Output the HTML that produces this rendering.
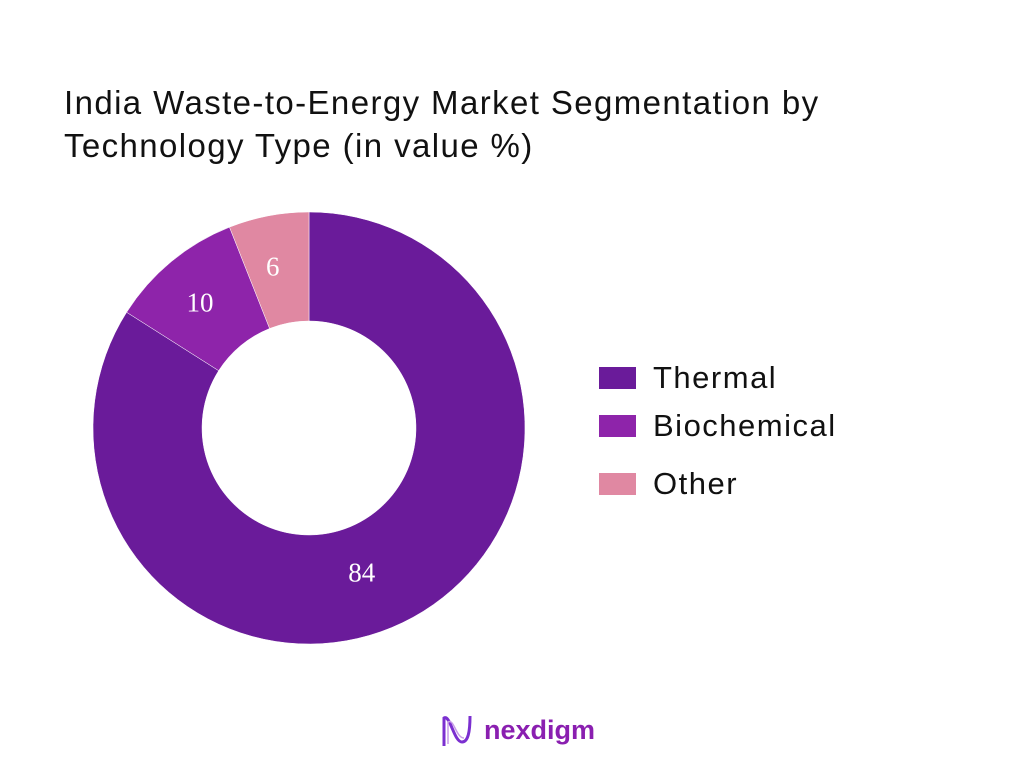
<!DOCTYPE html>
<html><head><meta charset="utf-8">
<style>
body{margin:0;width:1024px;height:768px;background:#fff;font-family:"Liberation Sans",sans-serif;overflow:hidden}
#title{position:absolute;left:64px;top:81px;font-size:33px;line-height:43px;color:#111;letter-spacing:1.4px}
.leg{position:absolute;left:599px;font-size:31px;color:#111;display:flex;align-items:center;letter-spacing:1.5px}
.sw{width:37px;height:22px;margin-right:17px}
</style></head><body>
<div id="title">India Waste-to-Energy Market Segmentation by<br>Technology Type (in value %)</div>
<svg id="chart" width="1024" height="768" style="position:absolute;left:0;top:0"></svg>
<div class="leg" style="top:360px"><div class="sw" style="background:#6a1b9a"></div>Thermal</div>
<div class="leg" style="top:408px"><div class="sw" style="background:#8e24aa"></div>Biochemical</div>
<div class="leg" style="top:466px"><div class="sw" style="background:#e088a2"></div>Other</div>
<div style="position:absolute;left:440px;top:712px;display:flex;align-items:center">
<svg width="36" height="36" viewBox="0 0 36 36"><path d="M4 34 V6 C10 2 14 30 22 30 C28 30 30 20 30 4" fill="none" stroke="#7b2fd0" stroke-width="3"/><path d="M8 32 V10 C14 6 16 26 24 26" fill="none" stroke="#c79be8" stroke-width="1.5"/></svg>
<span style="font-size:27px;font-weight:bold;color:#8a1fb0;margin-left:8px">nexdigm</span></div>
<script>
const categories=["Thermal","Biochemical","Other"];
const values=[84,10,6];
const colors=["#6a1b9a","#8e24aa","#e088a2"];
const svg=document.getElementById('chart');
const cx=309,cy=428,R=216,r=107,ns="http://www.w3.org/2000/svg";
const total=values.reduce((a,b)=>a+b,0);
let a0=0;
values.forEach((v,i)=>{
  const a1=a0+v/total*2*Math.PI;
  const p=(rad,a)=>[cx+rad*Math.sin(a),cy-rad*Math.cos(a)];
  const [x1,y1]=p(R,a0),[x2,y2]=p(R,a1),[x3,y3]=p(r,a1),[x4,y4]=p(r,a0);
  const lg=(a1-a0)>Math.PI?1:0;
  const path=document.createElementNS(ns,'path');
  path.setAttribute('d',`M${x1},${y1}A${R},${R} 0 ${lg} 1 ${x2},${y2}L${x3},${y3}A${r},${r} 0 ${lg} 0 ${x4},${y4}Z`);
  path.setAttribute('fill',colors[i]);
  path.setAttribute('stroke','#fff');path.setAttribute('stroke-width','0.5');
  
  
  svg.appendChild(path);
  const am=(a0+a1)/2,[lx,ly]=p((R+r)/2,am);
  const t=document.createElementNS(ns,'text');
  const dx=i===0?-25:-6, dy=i===0?12:i===1?8:6;
  t.setAttribute('x',lx+dx);t.setAttribute('y',ly+dy);
  t.setAttribute('text-anchor','middle');t.setAttribute('fill','#fff');
  t.setAttribute('font-family','"Liberation Serif",serif');t.setAttribute('font-size','27');
  t.textContent=v;
  
  
  svg.appendChild(t);
  a0=a1;
});
</script>
</body></html>
